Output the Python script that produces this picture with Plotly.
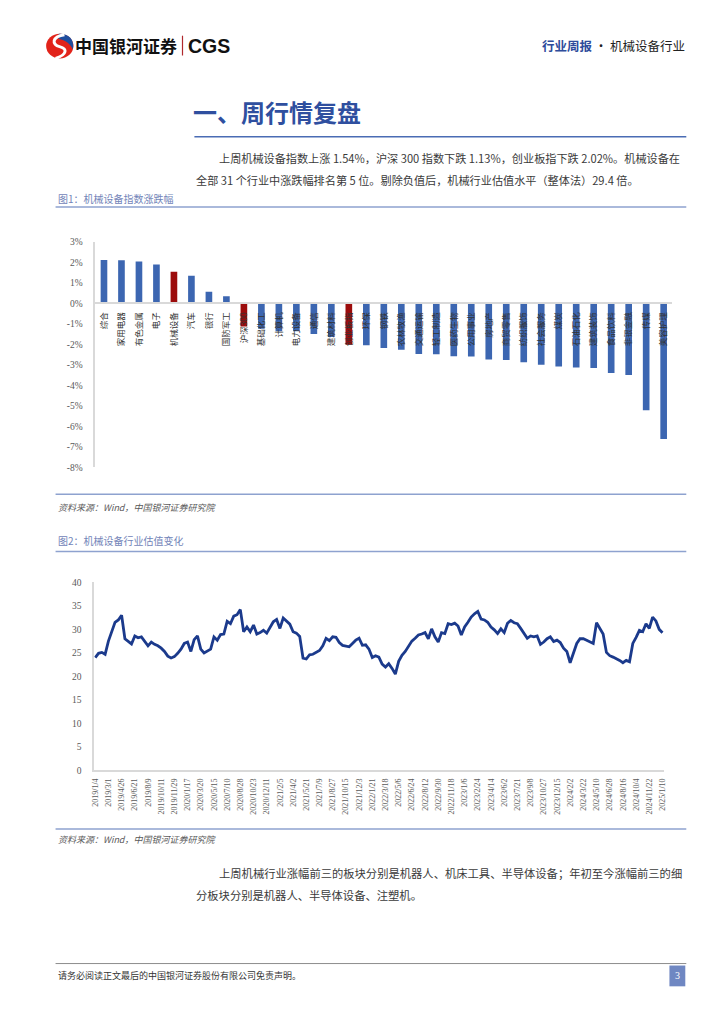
import plotly.graph_objects as go

W, H = 724, 1024


def px(x):
    return x / W


def py(y):
    return 1 - y / H


# ---------------- Chart 1 data: weekly change by industry (%) ----------------
industries = [
    "综合", "家用电器", "有色金属", "电子", "机械设备", "汽车", "银行", "国防军工",
    "沪深300", "基础化工", "计算机", "电力设备", "通信", "建筑材料", "创业板指",
    "环保", "钢铁", "农林牧渔", "交通运输", "轻工制造", "医药生物", "公用事业",
    "房地产", "商贸零售", "纺织服饰", "社会服务", "煤炭", "石油石化", "建筑装饰",
    "食品饮料", "非银金融", "传媒", "美容护理",
]
changes = [
    2.11, 2.10, 2.03, 1.89, 1.54, 1.34, 0.56, 0.34,
    -1.13, -1.24, -1.36, -1.37, -1.50, -1.65, -2.02,
    -2.05, -2.18, -2.26, -2.47, -2.48, -2.58, -2.60,
    -2.74, -2.77, -2.87, -3.00, -3.08, -3.13, -3.15,
    -3.40, -3.50, -5.21, -6.61,
]
highlighted = ["机械设备", "沪深300", "创业板指"]
y1_ticks = [3, 2, 1, 0, -1, -2, -3, -4, -5, -6, -7, -8]
y1_ticktext = [f"{v}%" for v in y1_ticks]

# ---------------- Chart 2 data: machinery industry PE (TTM) ----------------
pe_values = [
    24.0, 24.9, 25.1, 24.7, 27.5, 29.5, 31.5, 32.0, 33.0, 28.0,
    27.4, 26.9, 28.6, 28.2, 28.4, 27.5, 26.5, 27.3, 26.8, 26.5,
    26.0, 25.3, 24.3, 23.9, 24.2, 24.9, 25.8, 27.0, 27.3, 25.3,
    27.8, 28.6, 25.8, 25.0, 25.4, 25.8, 28.4, 27.7, 28.9, 29.0,
    31.7, 31.2, 32.8, 33.1, 34.2, 29.5, 30.5, 29.5, 30.9, 29.0,
    29.3, 29.8, 29.2, 30.3, 31.6, 32.1, 30.2, 32.4, 31.7, 31.1,
    29.5, 29.2, 28.5, 23.9, 23.7, 24.6, 24.7, 25.1, 25.5, 26.5,
    28.1, 27.6, 28.4, 28.3, 27.2, 26.6, 26.5, 26.3, 27.0, 27.7,
    28.1, 26.6, 26.7, 25.8, 24.0, 24.4, 24.1, 22.6, 22.0, 22.7,
    21.7, 20.5, 23.2, 24.5, 25.3, 26.4, 27.5, 28.1, 28.8, 29.0,
    29.3, 28.0, 30.1, 28.4, 27.3, 29.3, 29.1, 31.2, 31.0, 31.3,
    30.7, 28.8, 30.5, 31.5, 32.6, 33.3, 33.8, 32.2, 32.0, 31.5,
    30.5, 29.9, 29.1, 30.1, 29.3, 31.3, 31.9, 31.4, 31.2, 30.2,
    29.1, 28.1, 28.6, 28.4, 28.6, 26.8, 27.3, 28.0, 28.4, 27.4,
    27.7, 27.2, 26.0, 25.3, 22.9, 25.0, 27.0, 28.0, 28.0, 27.7,
    27.4, 27.0, 31.4, 30.2, 29.0, 25.1, 24.4, 24.1, 23.8, 23.4,
    22.9, 23.4, 23.1, 27.0, 28.3, 29.8, 29.5, 31.2, 30.2, 32.6,
    31.8, 30.0, 29.3,
]
date_labels = [
    "2019/1/4", "2019/3/1", "2019/4/26", "2019/6/21", "2019/8/9", "2019/10/11", "2019/11/29",
    "2020/1/17", "2020/3/20", "2020/5/15", "2020/7/10", "2020/8/28", "2020/10/23", "2020/12/11",
    "2021/2/5", "2021/4/2", "2021/5/21", "2021/7/9", "2021/8/27", "2021/10/15", "2021/12/3",
    "2022/1/21", "2022/3/18", "2022/5/6", "2022/6/24", "2022/8/12", "2022/9/30", "2022/11/18",
    "2023/1/6", "2023/2/24", "2023/4/14", "2023/6/2", "2023/7/21", "2023/9/8", "2023/10/27",
    "2023/12/15", "2024/2/2", "2024/3/22", "2024/5/10", "2024/6/28", "2024/8/16", "2024/10/4",
    "2024/11/22", "2025/1/10",
]
label_step = 4
y2_ticks = [0, 5, 10, 15, 20, 25, 30, 35, 40]

# ---------------- Text ----------------
para1 = [
    "上周机械设备指数上涨 1.54%，沪深 300 指数下跌 1.13%，创业板指下跌 2.02%。机械设备在",
    "全部 31 个行业中涨跌幅排名第 5 位。剔除负值后，机械行业估值水平（整体法）29.4 倍。",
]
para2 = [
    "上周机械行业涨幅前三的板块分别是机器人、机床工具、半导体设备；年初至今涨幅前三的细",
    "分板块分别是机器人、半导体设备、注塑机。",
]
fig1_title = "图1：机械设备指数涨跌幅"
fig2_title = "图2：机械设备行业估值变化"
source_text = "资料来源：Wind，中国银河证券研究院"
footer_text = "请务必阅读正文最后的中国银河证券股份有限公司免责声明。"

CJK = "Noto Sans CJK SC"
SERIF = "Liberation Serif"
BLUE_BAR = "#3c66b1"
RED_BAR = "#9c0c0c"
LINE_BLUE = "#1b3a8c"
RULE = "#8ea2cf"
AXIS = "#d9d9d9"

fig = go.Figure()

fig.add_trace(go.Bar(
    x=industries, y=changes,
    marker=dict(color=[RED_BAR if c in highlighted else BLUE_BAR for c in industries],
                line=dict(width=0)),
    width=0.38, xaxis="x", yaxis="y", hoverinfo="x+y",
))

fig.add_trace(go.Scatter(
    x=list(range(len(pe_values))), y=pe_values, mode="lines",
    line=dict(color=LINE_BLUE, width=2.8), xaxis="x2", yaxis="y2",
))

hidden_tick = "rgba(0,0,0,0)"

fig.update_layout(
    width=W, height=H, margin=dict(l=0, r=0, t=0, b=0),
    paper_bgcolor="white", plot_bgcolor="white", showlegend=False,
    xaxis=dict(
        domain=[px(93), px(675)], anchor="free", position=py(301),
        type="category", range=[-0.5, len(industries) - 0.5],
        showline=True, linecolor=AXIS, linewidth=1.5, showgrid=False,
        tickangle=-90, ticks="outside", ticklen=5, tickcolor=hidden_tick,
        tickfont=dict(family=CJK, size=8.5, color="#333333"),
    ),
    yaxis=dict(
        domain=[py(467), py(239)], range=[-8, 3],
        tickvals=y1_ticks, ticktext=y1_ticktext,
        showline=True, linecolor=AXIS, linewidth=1.5, showgrid=False, zeroline=False,
        ticks="outside", ticklen=9, tickcolor=hidden_tick,
        tickfont=dict(family=SERIF, size=9.5, color="#595959"),
    ),
    xaxis2=dict(
        domain=[px(92), px(667)], anchor="y2", range=[-0.3, len(pe_values) - 0.4],
        tickvals=[i * label_step for i in range(len(date_labels))], ticktext=date_labels,
        showline=True, linecolor=AXIS, linewidth=1.5, showgrid=False, zeroline=False,
        tickangle=-90, ticks="outside", ticklen=3, tickcolor=hidden_tick,
        tickfont=dict(family=SERIF, size=8, color="#595959"),
    ),
    yaxis2=dict(
        domain=[py(773), py(583)], anchor="x2", range=[0, 40],
        tickvals=y2_ticks,
        showline=True, linecolor=AXIS, linewidth=1.5, showgrid=False, zeroline=False,
        ticks="outside", ticklen=9, tickcolor=hidden_tick,
        tickfont=dict(family=SERIF, size=9.5, color="#595959"),
    ),
)

annotations = []


def text(x, y, s, size, color, family=CJK, anchor="left"):
    annotations.append(dict(
        x=px(x), y=py(y), xref="paper", yref="paper", text=s, showarrow=False,
        xanchor=anchor, yanchor="middle", font=dict(family=family, size=size, color=color),
    ))


# header
text(71, 41, "<b>中国银河证券</b>", 17, "#111111")
text(185, 41, "<b>CGS</b>", 19.5, "#111111", family="Liberation Sans")
text(690, 41, "<span style='color:#2e4c9b'><b>行业周报</b></span> · 机械设备行业",
     12.5, "#222222", anchor="right")

# title
text(190, 108, "<b>一、周行情复盘</b>", 24, "#2f4f9f")

# paragraphs
PFS = 11.15
text(216, 155, para1[0], PFS, "#3a3a3a")
text(193, 177, para1[1], PFS, "#3a3a3a")
text(53, 195, fig1_title, 10, "#7284b8")
text(53, 507, "<i>" + source_text + "</i>", 9, "#5a5a5a")
text(53, 541, fig2_title, 10, "#7284b8")
text(53, 843, "<i>" + source_text + "</i>", 9, "#5a5a5a")
text(216, 877, para2[0], 11.3, "#3a3a3a")
text(193, 899, para2[1], 11.3, "#3a3a3a")
text(53, 980, footer_text, 9, "#333333")
text(680, 980, "3", 10, "white", family=SERIF, anchor="center")

fig.update_layout(annotations=annotations)

shapes = []


def hline(x0, x1, y, color, width):
    shapes.append(dict(type="line", xref="paper", yref="paper",
                       x0=px(x0), x1=px(x1), y0=py(y), y1=py(y),
                       line=dict(color=color, width=width)))


hline(193, 689, 133, "#4a6cb4", 1.6)
hline(53, 689, 204, RULE, 1.5)
hline(53, 689, 494, RULE, 1.5)
hline(53, 689, 552, RULE, 1.5)
hline(53, 689, 832, RULE, 1.5)
hline(53, 689, 968, "#8c8c8c", 1)

# separator in logo
shapes.append(dict(type="line", xref="paper", yref="paper",
                   x0=px(181), x1=px(181), y0=py(31), y1=py(51),
                   line=dict(color="#b0282d", width=1.2)))

# page number box
shapes.append(dict(type="rect", xref="paper", yref="paper",
                   x0=px(672), x1=px(688), y0=py(991), y1=py(970),
                   fillcolor="#6f87c2", line=dict(width=0), layer="below"))


def path(cmds):
    out = []
    for c in cmds:
        if isinstance(c, str):
            out.append(c)
        else:
            out.append(f"{px(c[0]):.5f},{py(c[1]):.5f}")
    return " ".join(out)


# logo: red disc, blue crescent, white S-curve
shapes.append(dict(type="circle", xref="paper", yref="paper",
                   x0=px(43.5), x1=px(71), y0=py(54), y1=py(29),
                   fillcolor="#e2231a", line=dict(width=0)))
shapes.append(dict(type="path", xref="paper", yref="paper",
                   path=path(["M", (56, 29.2), "C", (66, 28.5), (72.5, 35), (70.5, 45),
                              "C", (68, 39), (63, 35.5), (56, 34), "Z"]),
                   fillcolor="#1f4e9e", line=dict(width=0)))
shapes.append(dict(type="path", xref="paper", yref="paper",
                   path=path(["M", (62, 30), "C", (49, 32), (49, 40), (57, 42),
                              "C", (65, 44), (65, 50), (53, 54)]),
                   line=dict(color="white", width=3)))

fig.update_layout(shapes=shapes)

fig.write_html("out.html", config={"displayModeBar": False},
               post_script="document.body.style.margin='0';")
